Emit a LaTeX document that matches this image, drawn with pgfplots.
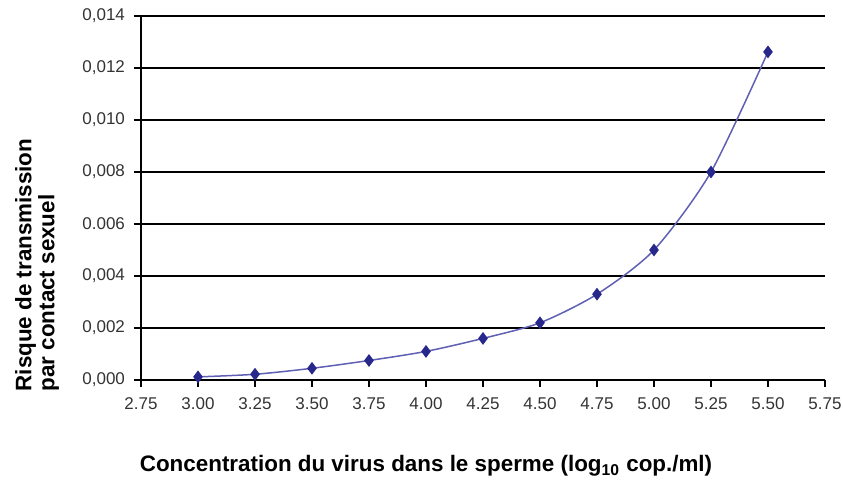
\documentclass[border=0pt]{standalone}
\usepackage{fontspec}
\setmainfont{Liberation Sans}
\usepackage{pgfplots}
\pgfplotsset{compat=1.18}
\definecolor{linecol}{RGB}{95,95,180}
\definecolor{markcol}{RGB}{40,40,140}

\begin{document}
\begin{tikzpicture}
\useasboundingbox (-70.5pt,-56pt) rectangle (351pt,190pt);
\begin{axis}[
    scale only axis,
    width=342pt,
    height=182pt,
    xmin=2.75, xmax=5.75,
    ymin=0, ymax=0.014,
    axis lines*=left,
    axis line style={line width=0.7pt},
    tick align=outside,
    major tick length=3.5pt,
    tick style={black, line width=0.6pt},
    xtick={2.75,3.00,3.25,3.50,3.75,4.00,4.25,4.50,4.75,5.00,5.25,5.50,5.75},
    xticklabels={2.75,3.00,3.25,3.50,3.75,4.00,4.25,4.50,4.75,5.00,5.25,5.50,5.75},
    ytick={0,0.002,0.004,0.006,0.008,0.010,0.012,0.014},
    yticklabels={{0,000},{0,002},{0,004},{0.006},{0,008},{0,010},{0,012},{0,014}},
    scaled y ticks=false,
    ymajorgrids,
    major grid style={black, line width=0.55pt},
    ticklabel style={font=\fontsize{8.5}{10}\selectfont, text=black!80},
    /pgf/number format/assume math mode=true,
    xticklabel style={yshift=-2pt},
    yticklabel style={xshift=-1pt},
    xlabel={Concentration du virus dans le sperme (log\textsubscript{10} cop./ml)},
    xlabel style={at={(axis description cs:0.4167,-0.2527)}, anchor=base,
        font=\bfseries\fontsize{11.2}{12}\selectfont},
    ylabel={Risque de transmission\\par contact sexuel},
    ylabel style={at={(axis description cs:-0.152,0.316)}, anchor=center,
        align=left, font=\bfseries\fontsize{11.2}{9.8}\selectfont},
    clip=false,
]
\addplot[linecol, line width=0.75pt, smooth, tension=0.45,
    mark=diamond*, mark size=2.6pt,
    mark options={draw=markcol, fill=markcol, solid}]
coordinates {
    (3.00,0.00012) (3.25,0.00022) (3.50,0.00045) (3.75,0.00075)
    (4.00,0.00110) (4.25,0.00160) (4.50,0.00220) (4.75,0.00330)
    (5.00,0.00500) (5.25,0.00800) (5.50,0.01262)
};
\end{axis}
\end{tikzpicture}
\end{document}
